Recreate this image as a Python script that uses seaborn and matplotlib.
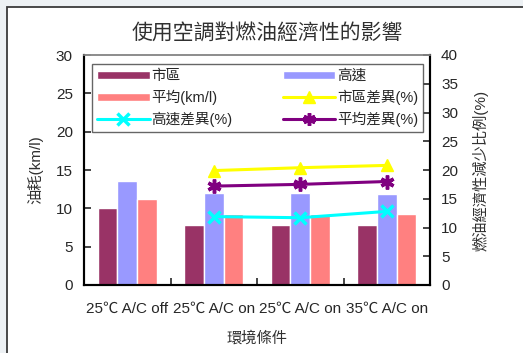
import matplotlib
matplotlib.use("Agg")
import matplotlib.pyplot as plt
from matplotlib.patches import Rectangle, Patch
from matplotlib.lines import Line2D
import seaborn as sns
import pandas as pd

# Driving conditions (two conditions share the same label)
conditions = ["25℃ A/C off", "25℃ A/C on", "25℃ A/C on", "35℃ A/C on"]

# Fuel consumption (km/l)
city = [10.0, 7.8, 7.8, 7.8]
highway = [13.6, 12.0, 12.0, 11.9]
average = [11.2, 9.3, 9.3, 9.3]

# Reduction in fuel economy (%), for the A/C-on conditions
city_diff = [19.9, 20.4, 20.8]
highway_diff = [11.9, 11.7, 12.8]
average_diff = [17.2, 17.5, 18.0]

bar_names = ["市區", "高速", "平均(km/l)"]
bar_colors = ["#993366", "#9999FF", "#FF8080"]

sns.set_style("ticks")
plt.rcParams["font.family"] = ["Liberation Sans", "Noto Sans CJK TC"]

idx = list(range(len(conditions)))
bars = pd.DataFrame({
    "cond": idx * 3,
    "series": [bar_names[0]] * 4 + [bar_names[1]] * 4 + [bar_names[2]] * 4,
    "value": city + highway + average,
})
on_idx = idx[1:]
lines = pd.DataFrame({
    "cond": on_idx * 3,
    "series": ["市區差異(%)"] * 3 + ["高速差異(%)"] * 3 + ["平均差異(%)"] * 3,
    "value": city_diff + highway_diff + average_diff,
})

W, H = 523, 353
fig = plt.figure(figsize=(W / 100, H / 100), dpi=100)
fig.patch.set_facecolor("#edf1f4")
fig.patches.append(Rectangle((7 / W, -0.02), 1.1, (H - 7) / H + 0.02,
                             transform=fig.transFigure, facecolor="white",
                             edgecolor="#3a3a3a", lw=1.3, zorder=-5))

ax = fig.add_axes([84 / W, (H - 285) / H, 346 / W, 230 / H])
ax.set_facecolor("white")
sns.barplot(data=bars, x="cond", y="value", hue="series", order=idx,
            hue_order=bar_names, palette=bar_colors, width=0.68,
            saturation=1, ax=ax, legend=False)
ax.set_xlim(-0.5, 3.5)
ax.set_ylim(0, 30)
ax.set_yticks(range(0, 31, 5))
ax.set_xticks([0.5, 1.5, 2.5], minor=True)
ax.set_xticks(idx)
ax.set_xticklabels(conditions)
ax.tick_params(axis="x", which="major", length=0, pad=12, labelsize=11)
ax.tick_params(axis="x", which="minor", direction="in", length=5, width=1.2)
ax.tick_params(axis="y", direction="in", length=5, width=1.2, pad=8, labelsize=11)
ax.set_xlabel("")
ax.set_ylabel("")

ax2 = ax.twinx()
line_styles = {
    "市區差異(%)": dict(color="#FFFF00", marker="^", ms=9),
    "高速差異(%)": dict(color="#00FFFF", marker="x", ms=9, mew=2.5),
    "平均差異(%)": dict(color="#800080", marker=(6, 2, 0), ms=10, mew=2.5),
}
for name, st in line_styles.items():
    sub = lines[lines["series"] == name]
    sns.lineplot(data=sub, x="cond", y="value", ax=ax2, color=st["color"],
                 marker=st["marker"], markersize=st["ms"],
                 markeredgecolor=st["color"], markeredgewidth=st.get("mew", 1),
                 linewidth=2.2, legend=False)
ax2.set_ylim(0, 40)
ax2.set_yticks(range(0, 41, 5))
ax2.set_xlim(-0.5, 3.5)
ax2.tick_params(axis="y", direction="in", length=5, width=1.2, pad=8, labelsize=11)
ax2.set_ylabel("")

for a in (ax, ax2):
    for s in ("left", "right", "bottom"):
        a.spines[s].set_visible(True)
        a.spines[s].set_color("black")
        a.spines[s].set_linewidth(1.5)
    a.spines["top"].set_visible(True)
    a.spines["top"].set_color("#8c8c8c")
    a.spines["top"].set_linewidth(1.2)

handles = [
    Patch(facecolor=bar_colors[0]),
    Patch(facecolor=bar_colors[2]),
    Line2D([], [], color="#00FFFF", marker="x", ms=8, mew=2.5, lw=2.2),
    Patch(facecolor=bar_colors[1]),
    Line2D([], [], color="#FFFF00", marker="^", ms=9, lw=2.2),
    Line2D([], [], color="#800080", marker=(6, 2, 0), ms=9, mew=2.5, lw=2.2),
]
labels = ["市區", "平均(km/l)", "高速差異(%)", "高速", "市區差異(%)", "平均差異(%)"]
leg = ax2.legend(handles, labels, ncol=2, mode="expand",
                 bbox_to_anchor=(0.023, 0.665, 0.957, 0.305), loc="lower left",
                 fontsize=10.5, frameon=True, fancybox=False, borderaxespad=0,
                 handlelength=3.6, handleheight=0.55, handletextpad=0.1,
                 labelspacing=0.45, borderpad=0.35)
leg.get_frame().set_edgecolor("#404040")
leg.get_frame().set_linewidth(1.0)

fig.text(267 / W, 1 - 33 / H, "使用空調對燃油經濟性的影響", ha="center",
         va="center", fontsize=15, color="#303030")
fig.text(35 / W, 1 - 170 / H, "油耗(km/l)", rotation=90, ha="center",
         va="center", fontsize=11, color="#303030")
fig.text(481 / W, 1 - 170 / H, "燃油經濟性減少比例(%)", rotation=90,
         ha="center", va="center", fontsize=11, color="#303030")
fig.text(257 / W, 1 - 338 / H, "環境條件", ha="center", va="center",
         fontsize=11, color="#303030")

fig.savefig("out.png", dpi=100, facecolor=fig.get_facecolor())
